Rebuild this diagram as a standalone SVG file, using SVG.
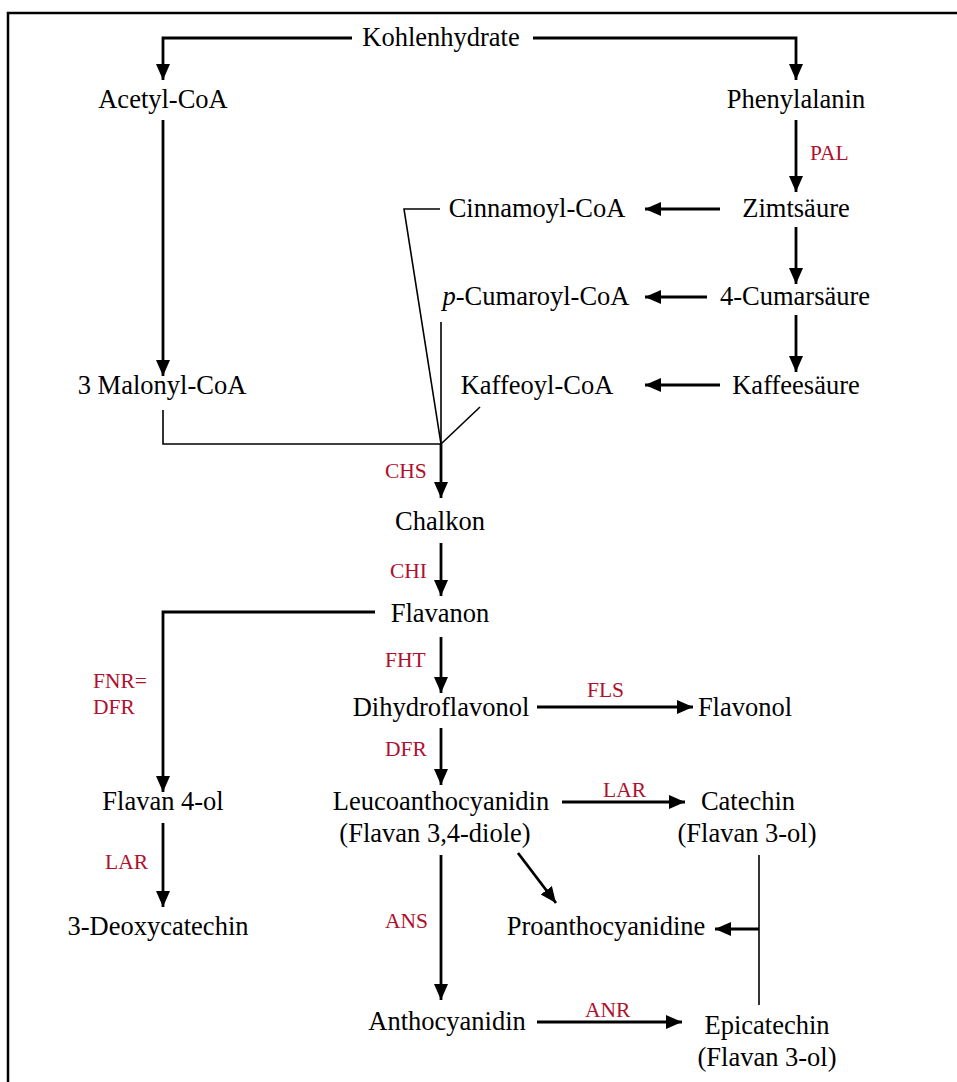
<svg xmlns="http://www.w3.org/2000/svg" width="957" height="1082" viewBox="0 0 957 1082">
<defs>
<marker id="ah" markerUnits="userSpaceOnUse" markerWidth="18" markerHeight="16" refX="16" refY="7" orient="auto">
<path d="M0,0 L16,7 L0,14 z" fill="#000"/>
</marker>
<style>
.t{font-family:"Liberation Serif","Times New Roman",serif;font-size:26.5px;fill:#000;text-anchor:middle}
.e{font-family:"Liberation Serif","Times New Roman",serif;font-size:21.5px;fill:#B0102E}
.a{fill:none;stroke:#000;stroke-width:2.8;marker-end:url(#ah)}
.l{fill:none;stroke:#000;stroke-width:1.6}
</style>
</defs>
<rect width="957" height="1082" fill="#fff"/>
<path d="M8,1082 V13 H957" fill="none" stroke="#000" stroke-width="2.5"/>
<g id="connectors">
<path class="a" d="M352,38 H163 V80"/>
<path class="a" d="M533,38 H796 V80"/>
<path class="a" d="M796,120 V192"/>
<path class="a" d="M796,227 V284"/>
<path class="a" d="M796,315 V372"/>
<path class="a" d="M720,209 H645"/>
<path class="a" d="M707,297 H645"/>
<path class="a" d="M720,385 H645"/>
<path class="a" d="M163,120 V376"/>
<path class="l" d="M163,410 V444 H441"/>
<path class="l" d="M440,209 H404 L441,444"/>
<path class="l" d="M441,322 V444"/>
<path class="l" d="M480,407 L441,444"/>
<path class="a" d="M441,444 V498"/>
<path class="a" d="M441,543 V596"/>
<path class="a" d="M375,612 H163 V792"/>
<path class="a" d="M441,637 V693"/>
<path class="a" d="M537,707 H693"/>
<path class="a" d="M441,728 V785"/>
<path class="a" d="M562,802 H685"/>
<path class="a" d="M163,823 V907"/>
<path class="a" d="M518,853 L556,903"/>
<path class="l" d="M759,855 V1005"/>
<path class="a" d="M759,929 H715"/>
<path class="a" d="M441,855 V1000"/>
<path class="a" d="M537,1022 H682"/>
</g>
<g id="enzymes">
<text class="e" x="810" y="160">PAL</text>
<text class="e" x="385" y="478">CHS</text>
<text class="e" x="390" y="578">CHI</text>
<text class="e" x="385" y="667">FHT</text>
<text class="e" x="385" y="756">DFR</text>
<text class="e" x="93" y="688">FNR=</text>
<text class="e" x="93" y="714">DFR</text>
<text class="e" x="587" y="697">FLS</text>
<text class="e" x="603" y="797">LAR</text>
<text class="e" x="105" y="869">LAR</text>
<text class="e" x="385" y="928">ANS</text>
<text class="e" x="585" y="1017">ANR</text>
</g>
<g id="n-kohlenhydrate"><text class="t" x="441" y="46">Kohlenhydrate</text></g>
<g id="n-acetyl"><text class="t" x="163" y="108">Acetyl-CoA</text></g>
<g id="n-phenylalanin"><text class="t" x="796" y="108">Phenylalanin</text></g>
<g id="n-zimt"><text class="t" x="796" y="217">Zimtsäure</text></g>
<g id="n-cinnamoyl"><text class="t" x="537" y="217">Cinnamoyl-CoA</text></g>
<g id="n-cumar"><text class="t" x="795" y="305">4-Cumarsäure</text></g>
<g id="n-cumaroyl"><text class="t" x="536" y="305"><tspan font-style="italic">p</tspan>-Cumaroyl-CoA</text></g>
<g id="n-kaffee"><text class="t" x="796" y="394">Kaffeesäure</text></g>
<g id="n-kaffeoyl"><text class="t" x="537" y="394">Kaffeoyl-CoA</text></g>
<g id="n-malonyl"><text class="t" x="162" y="394">3 Malonyl-CoA</text></g>
<g id="n-chalkon"><text class="t" x="440" y="530">Chalkon</text></g>
<g id="n-flavanon"><text class="t" x="440" y="622">Flavanon</text></g>
<g id="n-dihydro"><text class="t" x="441" y="716">Dihydroflavonol</text></g>
<g id="n-flavonol"><text class="t" x="745" y="716">Flavonol</text></g>
<g id="n-leuco"><text class="t" x="441" y="810">Leucoanthocyanidin</text><text class="t" x="435" y="842">(Flavan 3,4-diole)</text></g>
<g id="n-catechin"><text class="t" x="748" y="810">Catechin</text><text class="t" x="747" y="842">(Flavan 3-ol)</text></g>
<g id="n-flavan4ol"><text class="t" x="163" y="810">Flavan 4-ol</text></g>
<g id="n-deoxy"><text class="t" x="158" y="935">3-Deoxycatechin</text></g>
<g id="n-proantho"><text class="t" x="606" y="935">Proanthocyanidine</text></g>
<g id="n-antho"><text class="t" x="447" y="1030">Anthocyanidin</text></g>
<g id="n-epicatechin"><text class="t" x="767" y="1034">Epicatechin</text><text class="t" x="767" y="1066">(Flavan 3-ol)</text></g>
</svg>
